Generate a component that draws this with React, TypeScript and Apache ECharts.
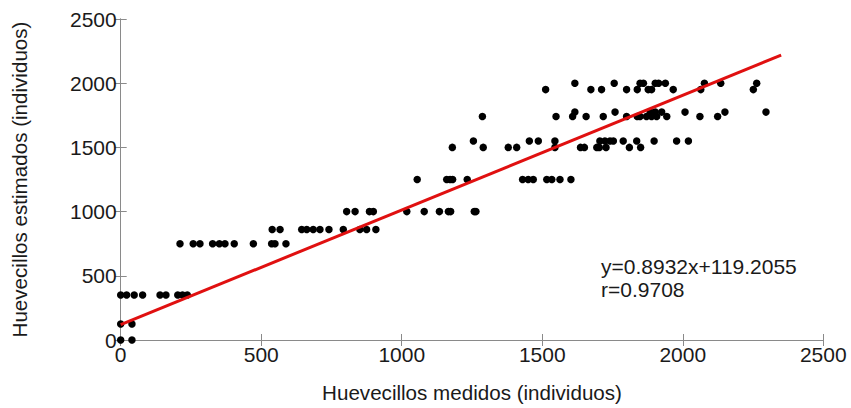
import React, { useEffect, useRef } from "react";
import * as echarts from "echarts";

// Estimated levels (y) and the measured values (x) observed at each level
const estimatedLevels = [0, 125, 350, 750, 860, 1000, 1250, 1500, 1550, 1740, 1775, 1950, 2000];
const measuredByLevel = [
  [0, 40],
  [0, 40],
  [0, 21, 48, 78, 140, 161, 203, 220, 237],
  [211, 258, 282, 327, 351, 371, 404, 472, 537, 549, 588],
  [539, 567, 644, 662, 685, 709, 741, 792, 851, 875, 908],
  [804, 834, 885, 899, 1018, 1080, 1134, 1166, 1174, 1258, 1264],
  [1055, 1160, 1172, 1181, 1233, 1430, 1450, 1468, 1516, 1534, 1563, 1602],
  [1180, 1290, 1379, 1409, 1545, 1636, 1650, 1694, 1703, 1727, 1810, 1850],
  [1255, 1454, 1486, 1545, 1705, 1723, 1741, 1753, 1788, 1836, 1898, 1978, 2020],
  [1287, 1549, 1608, 1656, 1717, 1800, 1838, 1848, 1871, 1889, 1907, 1943, 2061, 2124],
  [1616, 1759, 1884, 1902, 1925, 2008, 2150, 2296],
  [1512, 1673, 1711, 1800, 1838, 1877, 1889, 1966, 2064, 2251],
  [1616, 1756, 1848, 1860, 1902, 1914, 1938, 2077, 2135, 2263],
];

// Regression fit
const slope = 0.8932;
const intercept = 119.2055;
const fitRange = [0, 2350];
const equationText = "y=0.8932x+119.2055";
const rText = "r=0.9708";

const xTitle = "Huevecillos medidos (individuos)";
const yTitle = "Huevecillos estimados (individuos)";

const FONT = "'Liberation Sans', Arial, sans-serif";

export default function App() {
  const ref = useRef<HTMLDivElement>(null);

  useEffect(() => {
    if (!ref.current) return;
    const chart = echarts.init(ref.current, null, { renderer: "svg" });

    const points: number[][] = [];
    estimatedLevels.forEach((lvl, i) => {
      measuredByLevel[i].forEach((x) => points.push([x, lvl]));
    });
    const fitLine = fitRange.map((x) => [x, slope * x + intercept]);

    const axisCommon = {
      type: "value" as const,
      min: 0,
      max: 2500,
      interval: 500,
      splitLine: { show: false },
      axisLine: { show: true, lineStyle: { color: "#8a8a8a", width: 1 } },
      axisTick: { show: true, inside: true, length: 6, lineStyle: { color: "#8a8a8a" } },
    };
    const labelStyle = {
      color: "#1a1a1a",
      fontSize: 21,
      fontFamily: FONT,
      margin: 4,
      formatter: (v: number) => String(v),
    };

    chart.setOption({
      animation: false,
      backgroundColor: "#ffffff",
      grid: { left: 120.7, right: 27.7, top: 19, bottom: 61.3, containLabel: false },
      xAxis: [
        {
          ...axisCommon,
          position: "bottom",
          axisLabel: labelStyle,
          name: xTitle,
          nameLocation: "middle",
          nameGap: 42,
          nameTextStyle: { color: "#1a1a1a", fontSize: 20.6, fontFamily: FONT },
        },
        {
          ...axisCommon,
          position: "top",
          axisLabel: { show: false },
        },
      ],
      yAxis: [
        {
          ...axisCommon,
          position: "left",
          axisLabel: labelStyle,
          name: yTitle,
          nameLocation: "middle",
          nameGap: 91,
          nameRotate: 90,
          nameTextStyle: { color: "#1a1a1a", fontSize: 20.6, fontFamily: FONT },
        },
        {
          ...axisCommon,
          position: "right",
          axisLabel: { show: false },
        },
      ],
      graphic: [
        {
          type: "text",
          left: 601,
          top: 256,
          style: { text: equationText, fill: "#1a1a1a", font: `21px ${FONT}` },
          z: 100,
        },
        {
          type: "text",
          left: 601,
          top: 279,
          style: { text: rText, fill: "#1a1a1a", font: `21px ${FONT}` },
          z: 100,
        },
      ],
      series: [
        {
          type: "scatter",
          data: points,
          symbol: "circle",
          symbolSize: 7.5,
          itemStyle: { color: "#000000", opacity: 1 },
          z: 2,
        },
        {
          type: "line",
          data: fitLine,
          showSymbol: false,
          symbol: "none",
          lineStyle: { color: "#e01010", width: 3 },
          z: 3,
        },
      ],
    });

    return () => chart.dispose();
  }, []);

  return (
    <div
      ref={ref}
      style={{ position: "fixed", left: 0, top: 0, width: 851, height: 408, background: "#fff" }}
    />
  );
}
